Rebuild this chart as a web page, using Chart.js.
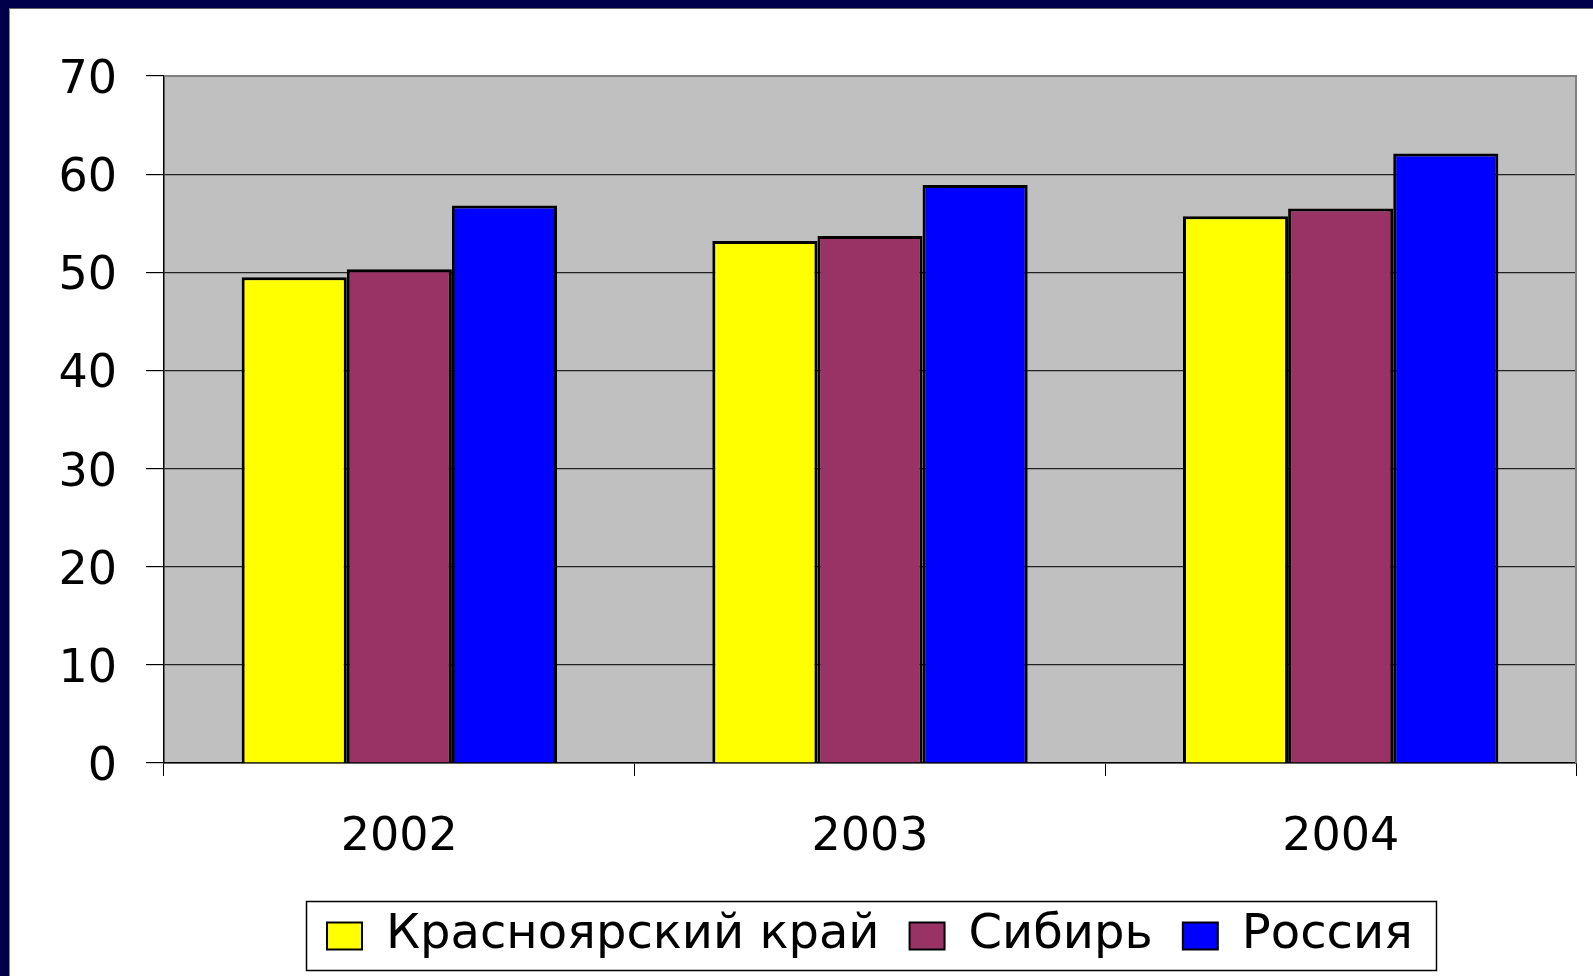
<!DOCTYPE html>
<html>
<head>
<meta charset="utf-8">
<script src="https://cdn.jsdelivr.net/npm/chart.js@4/dist/chart.umd.min.js"></script>
<style>
  html, body { margin: 0; padding: 0; background: #00004a; width: 1593px; height: 976px; overflow: hidden; }
  #wrap { position: absolute; left: 9px; top: 8px; width: 1584px; height: 968px; background: #ffffff; border-left: 1px solid #888; border-top: 1px solid #666; box-sizing: border-box; }
  canvas { display: block; }
</style>
</head>
<body>
<div id="wrap"><canvas id="c" width="1583" height="967"></canvas></div>
<script>
const categories = ['2002', '2003', '2004'];
const seriesNames = ['Красноярский край', 'Сибирь', 'Россия'];
const krasnoyarsk = [49.5, 53.2, 55.7];
const siberia = [50.3, 53.7, 56.5];
const russia = [56.8, 58.9, 62.1];
const yTicks = [0, 10, 20, 30, 40, 50, 60, 70];

const plotBg = {
  id: 'plotBg',
  beforeDraw(chart) {
    const { ctx, chartArea: a } = chart;
    ctx.save();
    ctx.fillStyle = '#c0c0c0';
    ctx.fillRect(a.left, a.top, a.right - a.left, a.bottom - a.top);
    ctx.restore();
  },
  afterDraw(chart) {
    const { ctx, chartArea: a } = chart;
    ctx.save();
    ctx.strokeStyle = '#808080';
    ctx.lineWidth = 2;
    ctx.beginPath();
    ctx.moveTo(a.left, a.top);
    ctx.lineTo(a.right, a.top);
    ctx.lineTo(a.right, a.bottom);
    ctx.stroke();
    // legend frame
    const boxes = chart.legend.legendHitBoxes;
    if (boxes && boxes.length) {
      let minX = Infinity, maxX = -Infinity, minY = Infinity, maxY = -Infinity;
      boxes.forEach(b => {
        minX = Math.min(minX, b.left); maxX = Math.max(maxX, b.left + b.width);
        minY = Math.min(minY, b.top); maxY = Math.max(maxY, b.top + b.height);
      });
      const cy = (minY + maxY) / 2;
      ctx.strokeStyle = '#000';
      ctx.lineWidth = 1.5;
      ctx.strokeRect(minX - 20.5, cy - 34.5, (maxX - minX) + 44, 69);
    }
    ctx.restore();
  }
};

const font = 'DejaVu Sans';

new Chart(document.getElementById('c'), {
  type: 'bar',
  data: {
    labels: categories,
    datasets: [
      { label: seriesNames[0], data: krasnoyarsk, backgroundColor: '#ffff00' },
      { label: seriesNames[1], data: siberia, backgroundColor: '#993366' },
      { label: seriesNames[2], data: russia, backgroundColor: '#0000ff' }
    ].map(d => Object.assign(d, { borderColor: '#000', borderWidth: 3, borderSkipped: 'bottom', categoryPercentage: 0.67, barPercentage: 1.0 }))
  },
  options: {
    responsive: false,
    devicePixelRatio: 1,
    animation: false,
    layout: { padding: { top: 67, right: 17, left: 0, bottom: 6 } },
    plugins: {
      title: { display: false },
      tooltip: { enabled: false },
      legend: {
        position: 'bottom',
        fullSize: false,
        labels: {
          color: '#000',
          font: { family: font, size: 48 },
          boxWidth: 35,
          boxHeight: 27,
          padding: 30,
          useBorderRadius: false,
          generateLabels(chart) {
            return chart.data.datasets.map((d, i) => ({
              text: d.label, fillStyle: d.backgroundColor, strokeStyle: '#000', lineWidth: 2, datasetIndex: i, hidden: false, fontColor: '#000'
            }));
          }
        }
      }
    },
    scales: {
      x: {
        grid: { drawOnChartArea: false, tickLength: 13, tickColor: '#000', offset: true },
        border: { color: '#000', width: 1.5 },
        ticks: { color: '#000', font: { family: font, size: 46 }, padding: 34 },
        afterFit(scale) { scale.height = 119; }
      },
      y: {
        min: 0, max: 70,
        afterBuildTicks(scale) { scale.ticks = yTicks.map(v => ({ value: v })); },
        grid: {
          color: ctx => (ctx.tick && ctx.tick.value === 70) ? 'rgba(0,0,0,0)' : '#222',
          tickColor: '#000', tickLength: 18, lineWidth: 1.2
        },
        border: { color: '#000', width: 1.5 },
        ticks: { color: '#000', font: { family: font, size: 46 }, padding: 29, labelOffset: 5 },
        afterFit(scale) { scale.width = 154; }
      }
    }
  },
  plugins: [plotBg]
});
</script>
</body>
</html>
